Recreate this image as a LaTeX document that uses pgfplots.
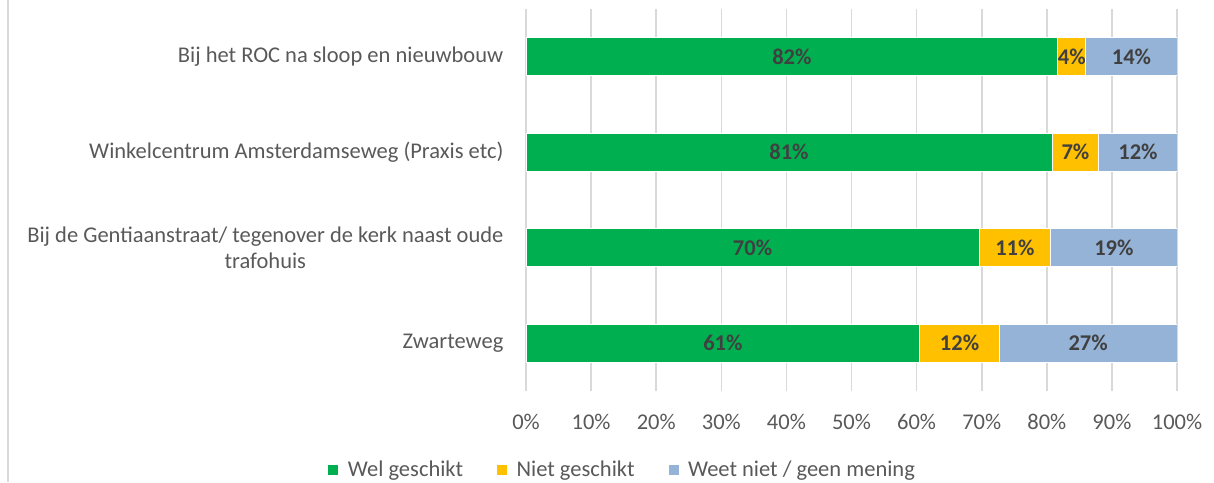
\documentclass[border=0pt]{standalone}
\usepackage{fontspec}
\setmainfont{Carlito}
\usepackage{pgfplots}
\pgfplotsset{compat=1.18}
\definecolor{cgreen}{HTML}{00B050}
\definecolor{corange}{HTML}{FFC000}
\definecolor{cblue}{HTML}{95B3D7}
\definecolor{ctext}{HTML}{595959}
\definecolor{clabel}{HTML}{404040}
\definecolor{cgrid}{HTML}{D9D9D9}
\newcommand{\cf}{\fontsize{11.25}{13}\selectfont}
\begin{document}
\begin{tikzpicture}[font=\cf]
\path[use as bounding box] (0,0) rectangle (607pt,241pt);
\draw[color=cgrid, line width=1pt] (4pt,0) -- (4pt,241pt);
\begin{axis}[
  at={(263pt,45.5pt)}, anchor=south west,
  scale only axis, width=325.5pt, height=191pt,
  xbar stacked, bar width=19pt,
  xmin=0, xmax=100, ymin=-0.5, ymax=3.5,
  xtick={0,10,...,100},
  xticklabel={\pgfmathprintnumber{\tick}\%},
  /pgf/number format/assume math mode=true,
  ytick={0,1,2,3},
  yticklabels={Zwarteweg, {Bij de Gentiaanstraat/ tegenover de kerk naast oude\\trafohuis}, {Winkelcentrum Amsterdamseweg (Praxis etc)}, {Bij het ROC na sloop en nieuwbouw}},
  yticklabel style={align=center, text=ctext, font=\cf, xshift=-7.8pt},
  xticklabel style={text=ctext, font=\cf, yshift=-8pt},
  major tick length=0pt,
  axis line style={draw=none},
  xmajorgrids, grid style={color=cgrid, line width=0.8pt},
  legend style={at={(0.150,-0.207)}, anchor=center, draw=none, fill=none,
    legend columns=3, font=\cf, text=ctext,
    /tikz/every even column/.append style={column sep=15pt},
    nodes={inner sep=2pt}},
  legend image code/.code={\path[#1, draw=none] (0pt,-2.5pt) rectangle (5pt,2.5pt); \path (5pt,0) -- (7.5pt,0);},
]
\addplot[fill=cgreen, draw=white, line width=0.5pt] coordinates {(60.5,0) (69.6,1) (80.8,2) (81.7,3)};
\addplot[fill=corange, draw=white, line width=0.5pt] coordinates {(12.2,0) (11.0,1) (7.2,2) (4.3,3)};
\addplot[fill=cblue, draw=white, line width=0.5pt] coordinates {(27.3,0) (19.4,1) (12.0,2) (14.0,3)};
\legend{Wel geschikt, Niet geschikt, Weet niet / geen mening}
\end{axis}
\begin{axis}[
  at={(263pt,45.5pt)}, anchor=south west,
  scale only axis, width=325.5pt, height=191pt,
  xmin=0, xmax=100, ymin=-0.5, ymax=3.5,
  hide axis, clip=false,
]
\addplot[only marks, mark=none, point meta=explicit symbolic,
  nodes near coords={\pgfplotspointmeta\%},
  nodes near coords style={font=\cf\bfseries, text=clabel, anchor=center}]
  table[meta=lab] {
x y lab
40.85 3 82
83.85 3 4
93.0 3 14
40.4 2 81
84.4 2 7
94.0 2 12
34.8 1 70
75.1 1 11
90.3 1 19
30.25 0 61
66.6 0 12
86.35 0 27
};
\end{axis}
\end{tikzpicture}
\end{document}
